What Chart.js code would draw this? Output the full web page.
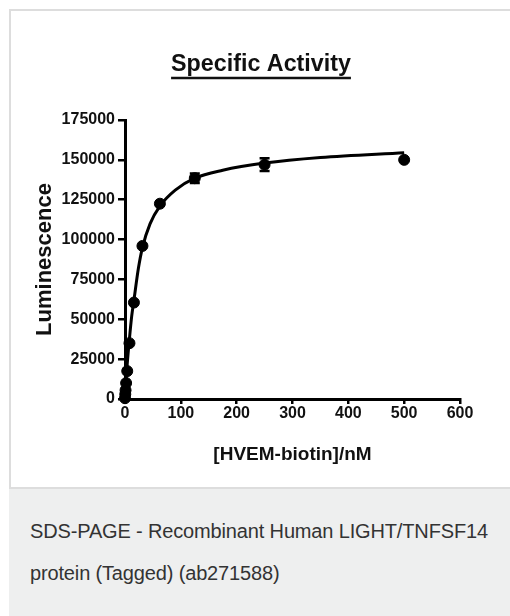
<!DOCTYPE html>
<html><head><meta charset="utf-8">
<script src="https://cdn.jsdelivr.net/npm/chart.js@4/dist/chart.umd.min.js"></script>
<style>
html,body{margin:0;padding:0;background:#fff;width:510px;height:616px;overflow:hidden;position:relative;font-family:"Liberation Sans",Arial,sans-serif;}
#frame{position:absolute;left:9px;top:9px;width:600px;height:700px;border:2px solid #dddddd;box-sizing:border-box;}
#plot{position:absolute;left:11px;top:11px;width:499px;height:476px;background:#fff;}
#sep{position:absolute;left:9px;top:487px;width:520px;height:2px;background:#dddddd;}
#cap{position:absolute;left:9px;top:489px;width:520px;height:140px;background:#eeefef;color:#333;font-size:20px;line-height:42px;letter-spacing:-0.15px;padding:21px 0 0 21px;box-sizing:border-box;}
</style>
</head><body>
<div id="frame"></div>
<div id="plot"><canvas id="c" width="499" height="476"></canvas></div>
<div id="sep"></div>
<div id="cap">SDS-PAGE - Recombinant Human LIGHT/TNFSF14<br>protein (Tagged) (ab271588)</div>
<script>
// measured concentrations (nM) and luminescence
const concX = [0, 0.5, 1, 2, 4, 8, 16, 31.25, 62.5, 125, 250, 500];
const lumY  = [500, 3000, 5500, 10000, 17500, 35000, 60500, 96000, 122500, 138500, 147000, 150000];
const lumErr = [0, 0, 0, 0, 0, 0, 0, 0, 0, 3000, 4000, 0];
// fitted curve
const fitX = [0, 1, 2, 4, 8, 12, 16, 24, 31.25, 45, 62.5, 90, 125, 175, 250, 350, 500];
const fitY = [0, 6500, 12000, 22000, 38000, 52000, 62000, 82000, 95000, 110000, 121000, 131000, 138500, 143500, 148000, 151500, 154500];
// axis ticks
const xTicks = [0, 100, 200, 300, 400, 500, 600];
const yTicks = [0, 25000, 50000, 75000, 100000, 125000, 150000, 175000];
const chartTitle = "Specific Activity";
const xTitle = "[HVEM-biotin]/nM";
const yTitle = "Luminescence";

const errorBars = {
  id: 'errorBars',
  afterDatasetsDraw(chart) {
    const ctx = chart.ctx, xs = chart.scales.x, ys = chart.scales.y;
    ctx.save();
    ctx.strokeStyle = '#000'; ctx.lineWidth = 2.5;
    concX.forEach((x, i) => {
      const e = lumErr[i]; if (!e) return;
      const px = xs.getPixelForValue(x);
      const t = ys.getPixelForValue(lumY[i] + e), b = ys.getPixelForValue(lumY[i] - e);
      ctx.beginPath();
      ctx.moveTo(px, t); ctx.lineTo(px, b);
      ctx.moveTo(px - 5, t); ctx.lineTo(px + 5, t);
      ctx.moveTo(px - 5, b); ctx.lineTo(px + 5, b);
      ctx.stroke();
    });
    ctx.restore();
  }
};
const titlePlugin = {
  id: 'titleUnderlined',
  afterDraw(chart) {
    const ctx = chart.ctx;
    const cx = 250, base = 60, sx = 0.97;
    ctx.save();
    ctx.font = 'bold 24px "Liberation Sans", Arial, sans-serif';
    ctx.fillStyle = '#111';
    ctx.textAlign = 'center';
    ctx.textBaseline = 'alphabetic';
    const w = ctx.measureText(chartTitle).width * sx;
    ctx.translate(cx, base);
    ctx.scale(sx, 1);
    ctx.fillText(chartTitle, 0, 0);
    ctx.restore();
    ctx.save();
    ctx.strokeStyle = '#111'; ctx.lineWidth = 2.5;
    ctx.beginPath(); ctx.moveTo(cx - w / 2, base + 7); ctx.lineTo(cx + w / 2, base + 7); ctx.stroke();
    ctx.restore();
  }
};

new Chart(document.getElementById('c'), {
  type: 'scatter',
  data: {
    datasets: [
      { type: 'line', data: fitX.map((x, i) => ({x, y: fitY[i]})), borderColor: '#000', borderWidth: 3,
        pointRadius: 0, cubicInterpolationMode: 'monotone', fill: false, order: 2, clip: false },
      { type: 'scatter', data: concX.map((x, i) => ({x, y: lumY[i]})), backgroundColor: '#000', borderColor: '#000',
        pointRadius: 5.5, pointHoverRadius: 5.5, order: 1, clip: false }
    ]
  },
  options: {
    responsive: false, animation: false, devicePixelRatio: 1,
    layout: { padding: { top: 109, left: 0, right: 50, bottom: 0 } },
    plugins: {
      legend: { display: false }, tooltip: { enabled: false }, title: { display: false }
    },
    scales: {
      x: { type: 'linear', min: 0, max: 600,
        afterBuildTicks: s => { s.ticks = xTicks.map(v => ({value: v})); },
        afterFit: s => { s.height = 88; },
        ticks: { color: '#111', padding: 0, font: { family: '"Liberation Sans", Arial, sans-serif', size: 16, weight: 'bold' }, callback: v => String(v) },
        grid: { drawOnChartArea: false, drawTicks: true, tickLength: 5, color: '#000', lineWidth: 2.5 },
        border: { display: true, color: '#000', width: 3 },
        title: { display: true, text: xTitle, color: '#111', padding: { top: 0, bottom: 20.6 },
          font: { family: '"Liberation Sans", Arial, sans-serif', size: 19, weight: 'bold', lineHeight: 1.2 } }
      },
      y: { type: 'linear', min: 0, max: 175000,
        afterBuildTicks: s => { s.ticks = yTicks.map(v => ({value: v})); },
        afterFit: s => { s.width = 114; },
        ticks: { color: '#111', padding: 3, font: { family: '"Liberation Sans", Arial, sans-serif', size: 16, weight: 'bold' }, callback: v => String(v) },
        grid: { drawOnChartArea: false, drawTicks: true, tickLength: 7, color: '#000', lineWidth: 2.5 },
        border: { display: true, color: '#000', width: 3 },
        title: { display: true, text: yTitle, color: '#111', padding: { top: 20.8, bottom: 0 },
          font: { family: '"Liberation Sans", Arial, sans-serif', size: 22, weight: 'bold', lineHeight: 1.2 } }
      }
    }
  },
  plugins: [errorBars, titlePlugin]
});
</script>
</body></html>
